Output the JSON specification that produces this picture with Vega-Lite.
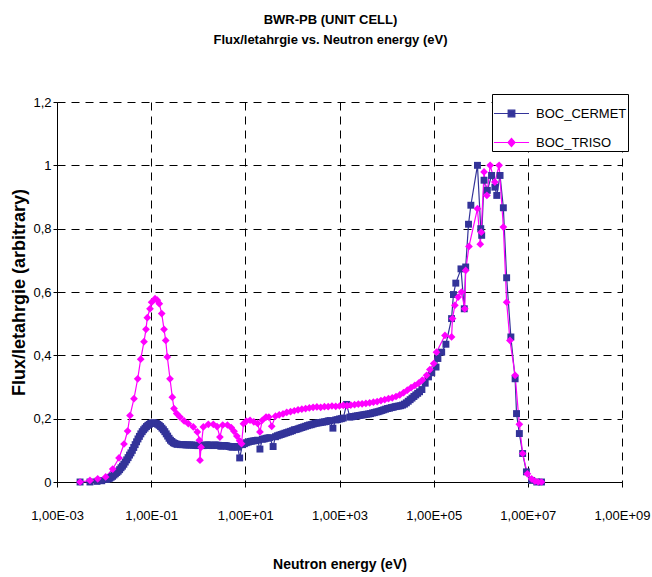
{
  "$schema": "https://vega.github.io/schema/vega-lite/v6.json",
  "width": 565,
  "height": 380,
  "autosize": "none",
  "padding": {"left": 57, "top": 102, "right": 30, "bottom": 95},
  "background": "white",
  "config": {"font": "Liberation Sans", "view": {"stroke": null}},
  "title": {
    "text": ["BWR-PB (UNIT CELL)", "Flux/letahrgie vs. Neutron energy (eV)"],
    "anchor": "middle",
    "frame": "bounds",
    "font": "Liberation Sans",
    "fontSize": 13,
    "fontWeight": "bold",
    "color": "#000",
    "lineHeight": 20,
    "offset": 47
  },
  "datasets": {
    "flux": [
      {"series": "BOC_CERMET", "E": 3.090e-3, "flux": 0},
      {"series": "BOC_CERMET", "E": 5.012e-3, "flux": 0},
      {"series": "BOC_CERMET", "E": 7.079e-3, "flux": 0.002},
      {"series": "BOC_CERMET", "E": 8.913e-3, "flux": 0.004},
      {"series": "BOC_CERMET", "E": 1.122e-2, "flux": 0.008},
      {"series": "BOC_CERMET", "E": 1.230e-2, "flux": 0.010},
      {"series": "BOC_CERMET", "E": 1.318e-2, "flux": 0.012},
      {"series": "BOC_CERMET", "E": 1.413e-2, "flux": 0.015},
      {"series": "BOC_CERMET", "E": 1.514e-2, "flux": 0.018},
      {"series": "BOC_CERMET", "E": 1.622e-2, "flux": 0.022},
      {"series": "BOC_CERMET", "E": 1.738e-2, "flux": 0.026},
      {"series": "BOC_CERMET", "E": 1.862e-2, "flux": 0.030},
      {"series": "BOC_CERMET", "E": 1.995e-2, "flux": 0.034},
      {"series": "BOC_CERMET", "E": 2.138e-2, "flux": 0.039},
      {"series": "BOC_CERMET", "E": 2.291e-2, "flux": 0.045},
      {"series": "BOC_CERMET", "E": 2.455e-2, "flux": 0.050},
      {"series": "BOC_CERMET", "E": 2.630e-2, "flux": 0.056},
      {"series": "BOC_CERMET", "E": 2.818e-2, "flux": 0.063},
      {"series": "BOC_CERMET", "E": 3.020e-2, "flux": 0.070},
      {"series": "BOC_CERMET", "E": 3.236e-2, "flux": 0.077},
      {"series": "BOC_CERMET", "E": 3.467e-2, "flux": 0.085},
      {"series": "BOC_CERMET", "E": 3.715e-2, "flux": 0.092},
      {"series": "BOC_CERMET", "E": 3.981e-2, "flux": 0.100},
      {"series": "BOC_CERMET", "E": 4.266e-2, "flux": 0.109},
      {"series": "BOC_CERMET", "E": 4.571e-2, "flux": 0.118},
      {"series": "BOC_CERMET", "E": 4.898e-2, "flux": 0.127},
      {"series": "BOC_CERMET", "E": 5.248e-2, "flux": 0.136},
      {"series": "BOC_CERMET", "E": 5.623e-2, "flux": 0.144},
      {"series": "BOC_CERMET", "E": 6.026e-2, "flux": 0.152},
      {"series": "BOC_CERMET", "E": 6.457e-2, "flux": 0.159},
      {"series": "BOC_CERMET", "E": 6.918e-2, "flux": 0.165},
      {"series": "BOC_CERMET", "E": 7.413e-2, "flux": 0.170},
      {"series": "BOC_CERMET", "E": 7.943e-2, "flux": 0.175},
      {"series": "BOC_CERMET", "E": 8.511e-2, "flux": 0.179},
      {"series": "BOC_CERMET", "E": 9.120e-2, "flux": 0.182},
      {"series": "BOC_CERMET", "E": 9.772e-2, "flux": 0.185},
      {"series": "BOC_CERMET", "E": 1.047e-1, "flux": 0.186},
      {"series": "BOC_CERMET", "E": 1.122e-1, "flux": 0.187},
      {"series": "BOC_CERMET", "E": 1.202e-1, "flux": 0.186},
      {"series": "BOC_CERMET", "E": 1.288e-1, "flux": 0.185},
      {"series": "BOC_CERMET", "E": 1.380e-1, "flux": 0.182},
      {"series": "BOC_CERMET", "E": 1.479e-1, "flux": 0.179},
      {"series": "BOC_CERMET", "E": 1.585e-1, "flux": 0.175},
      {"series": "BOC_CERMET", "E": 1.698e-1, "flux": 0.170},
      {"series": "BOC_CERMET", "E": 1.820e-1, "flux": 0.165},
      {"series": "BOC_CERMET", "E": 1.950e-1, "flux": 0.159},
      {"series": "BOC_CERMET", "E": 2.089e-1, "flux": 0.152},
      {"series": "BOC_CERMET", "E": 2.239e-1, "flux": 0.145},
      {"series": "BOC_CERMET", "E": 2.399e-1, "flux": 0.138},
      {"series": "BOC_CERMET", "E": 2.570e-1, "flux": 0.132},
      {"series": "BOC_CERMET", "E": 2.754e-1, "flux": 0.128},
      {"series": "BOC_CERMET", "E": 2.951e-1, "flux": 0.124},
      {"series": "BOC_CERMET", "E": 3.162e-1, "flux": 0.122},
      {"series": "BOC_CERMET", "E": 3.388e-1, "flux": 0.120},
      {"series": "BOC_CERMET", "E": 3.631e-1, "flux": 0.119},
      {"series": "BOC_CERMET", "E": 4.169e-1, "flux": 0.118},
      {"series": "BOC_CERMET", "E": 4.571e-1, "flux": 0.118},
      {"series": "BOC_CERMET", "E": 5.012e-1, "flux": 0.118},
      {"series": "BOC_CERMET", "E": 5.495e-1, "flux": 0.117},
      {"series": "BOC_CERMET", "E": 6.026e-1, "flux": 0.117},
      {"series": "BOC_CERMET", "E": 6.607e-1, "flux": 0.117},
      {"series": "BOC_CERMET", "E": 7.244e-1, "flux": 0.117},
      {"series": "BOC_CERMET", "E": 7.943e-1, "flux": 0.116},
      {"series": "BOC_CERMET", "E": 8.710e-1, "flux": 0.116},
      {"series": "BOC_CERMET", "E": 9.333e-1, "flux": 0.115},
      {"series": "BOC_CERMET", "E": 1.000, "flux": 0.115},
      {"series": "BOC_CERMET", "E": 1.072, "flux": 0.116},
      {"series": "BOC_CERMET", "E": 1.148, "flux": 0.116},
      {"series": "BOC_CERMET", "E": 1.230, "flux": 0.115},
      {"series": "BOC_CERMET", "E": 1.318, "flux": 0.115},
      {"series": "BOC_CERMET", "E": 1.413, "flux": 0.116},
      {"series": "BOC_CERMET", "E": 1.514, "flux": 0.117},
      {"series": "BOC_CERMET", "E": 1.622, "flux": 0.117},
      {"series": "BOC_CERMET", "E": 1.738, "flux": 0.116},
      {"series": "BOC_CERMET", "E": 1.862, "flux": 0.116},
      {"series": "BOC_CERMET", "E": 1.995, "flux": 0.115},
      {"series": "BOC_CERMET", "E": 2.138, "flux": 0.116},
      {"series": "BOC_CERMET", "E": 2.291, "flux": 0.117},
      {"series": "BOC_CERMET", "E": 2.455, "flux": 0.116},
      {"series": "BOC_CERMET", "E": 2.630, "flux": 0.116},
      {"series": "BOC_CERMET", "E": 2.818, "flux": 0.115},
      {"series": "BOC_CERMET", "E": 3.020, "flux": 0.113},
      {"series": "BOC_CERMET", "E": 3.236, "flux": 0.114},
      {"series": "BOC_CERMET", "E": 3.467, "flux": 0.115},
      {"series": "BOC_CERMET", "E": 3.715, "flux": 0.115},
      {"series": "BOC_CERMET", "E": 3.981, "flux": 0.114},
      {"series": "BOC_CERMET", "E": 4.266, "flux": 0.113},
      {"series": "BOC_CERMET", "E": 4.571, "flux": 0.112},
      {"series": "BOC_CERMET", "E": 4.898, "flux": 0.111},
      {"series": "BOC_CERMET", "E": 5.248, "flux": 0.110},
      {"series": "BOC_CERMET", "E": 5.623, "flux": 0.111},
      {"series": "BOC_CERMET", "E": 6.026, "flux": 0.112},
      {"series": "BOC_CERMET", "E": 6.457, "flux": 0.111},
      {"series": "BOC_CERMET", "E": 6.918, "flux": 0.110},
      {"series": "BOC_CERMET", "E": 7.586, "flux": 0.076},
      {"series": "BOC_CERMET", "E": 8.710, "flux": 0.118},
      {"series": "BOC_CERMET", "E": 9.550, "flux": 0.121},
      {"series": "BOC_CERMET", "E": 10.47, "flux": 0.124},
      {"series": "BOC_CERMET", "E": 11.48, "flux": 0.126},
      {"series": "BOC_CERMET", "E": 12.59, "flux": 0.128},
      {"series": "BOC_CERMET", "E": 13.80, "flux": 0.129},
      {"series": "BOC_CERMET", "E": 15.14, "flux": 0.130},
      {"series": "BOC_CERMET", "E": 16.60, "flux": 0.131},
      {"series": "BOC_CERMET", "E": 18.20, "flux": 0.132},
      {"series": "BOC_CERMET", "E": 20.42, "flux": 0.104},
      {"series": "BOC_CERMET", "E": 22.91, "flux": 0.135},
      {"series": "BOC_CERMET", "E": 25.12, "flux": 0.136},
      {"series": "BOC_CERMET", "E": 27.54, "flux": 0.138},
      {"series": "BOC_CERMET", "E": 30.20, "flux": 0.139},
      {"series": "BOC_CERMET", "E": 33.11, "flux": 0.140},
      {"series": "BOC_CERMET", "E": 38.90, "flux": 0.112},
      {"series": "BOC_CERMET", "E": 43.65, "flux": 0.143},
      {"series": "BOC_CERMET", "E": 47.86, "flux": 0.146},
      {"series": "BOC_CERMET", "E": 52.48, "flux": 0.148},
      {"series": "BOC_CERMET", "E": 57.54, "flux": 0.150},
      {"series": "BOC_CERMET", "E": 63.10, "flux": 0.152},
      {"series": "BOC_CERMET", "E": 69.18, "flux": 0.154},
      {"series": "BOC_CERMET", "E": 75.86, "flux": 0.156},
      {"series": "BOC_CERMET", "E": 83.18, "flux": 0.158},
      {"series": "BOC_CERMET", "E": 91.20, "flux": 0.160},
      {"series": "BOC_CERMET", "E": 100.0, "flux": 0.162},
      {"series": "BOC_CERMET", "E": 109.6, "flux": 0.165},
      {"series": "BOC_CERMET", "E": 120.2, "flux": 0.166},
      {"series": "BOC_CERMET", "E": 131.8, "flux": 0.168},
      {"series": "BOC_CERMET", "E": 144.5, "flux": 0.170},
      {"series": "BOC_CERMET", "E": 158.5, "flux": 0.172},
      {"series": "BOC_CERMET", "E": 173.8, "flux": 0.174},
      {"series": "BOC_CERMET", "E": 190.5, "flux": 0.176},
      {"series": "BOC_CERMET", "E": 208.9, "flux": 0.178},
      {"series": "BOC_CERMET", "E": 229.1, "flux": 0.180},
      {"series": "BOC_CERMET", "E": 251.2, "flux": 0.181},
      {"series": "BOC_CERMET", "E": 275.4, "flux": 0.183},
      {"series": "BOC_CERMET", "E": 302.0, "flux": 0.185},
      {"series": "BOC_CERMET", "E": 331.1, "flux": 0.186},
      {"series": "BOC_CERMET", "E": 363.1, "flux": 0.187},
      {"series": "BOC_CERMET", "E": 398.1, "flux": 0.188},
      {"series": "BOC_CERMET", "E": 436.5, "flux": 0.189},
      {"series": "BOC_CERMET", "E": 478.6, "flux": 0.190},
      {"series": "BOC_CERMET", "E": 524.8, "flux": 0.191},
      {"series": "BOC_CERMET", "E": 575.4, "flux": 0.193},
      {"series": "BOC_CERMET", "E": 631.0, "flux": 0.194},
      {"series": "BOC_CERMET", "E": 724.4, "flux": 0.170},
      {"series": "BOC_CERMET", "E": 831.8, "flux": 0.196},
      {"series": "BOC_CERMET", "E": 912.0, "flux": 0.197},
      {"series": "BOC_CERMET", "E": 1000, "flux": 0.199},
      {"series": "BOC_CERMET", "E": 1096, "flux": 0.200},
      {"series": "BOC_CERMET", "E": 1202, "flux": 0.202},
      {"series": "BOC_CERMET", "E": 1413, "flux": 0.245},
      {"series": "BOC_CERMET", "E": 1660, "flux": 0.205},
      {"series": "BOC_CERMET", "E": 1820, "flux": 0.206},
      {"series": "BOC_CERMET", "E": 1995, "flux": 0.207},
      {"series": "BOC_CERMET", "E": 2188, "flux": 0.208},
      {"series": "BOC_CERMET", "E": 2399, "flux": 0.209},
      {"series": "BOC_CERMET", "E": 2630, "flux": 0.210},
      {"series": "BOC_CERMET", "E": 2884, "flux": 0.211},
      {"series": "BOC_CERMET", "E": 3162, "flux": 0.212},
      {"series": "BOC_CERMET", "E": 3467, "flux": 0.213},
      {"series": "BOC_CERMET", "E": 3802, "flux": 0.214},
      {"series": "BOC_CERMET", "E": 4169, "flux": 0.215},
      {"series": "BOC_CERMET", "E": 4571, "flux": 0.216},
      {"series": "BOC_CERMET", "E": 5012, "flux": 0.218},
      {"series": "BOC_CERMET", "E": 5495, "flux": 0.219},
      {"series": "BOC_CERMET", "E": 6026, "flux": 0.221},
      {"series": "BOC_CERMET", "E": 6607, "flux": 0.222},
      {"series": "BOC_CERMET", "E": 7244, "flux": 0.224},
      {"series": "BOC_CERMET", "E": 7943, "flux": 0.226},
      {"series": "BOC_CERMET", "E": 8710, "flux": 0.228},
      {"series": "BOC_CERMET", "E": 9550, "flux": 0.230},
      {"series": "BOC_CERMET", "E": 10470, "flux": 0.232},
      {"series": "BOC_CERMET", "E": 11480, "flux": 0.233},
      {"series": "BOC_CERMET", "E": 12590, "flux": 0.235},
      {"series": "BOC_CERMET", "E": 13800, "flux": 0.236},
      {"series": "BOC_CERMET", "E": 15140, "flux": 0.238},
      {"series": "BOC_CERMET", "E": 16600, "flux": 0.239},
      {"series": "BOC_CERMET", "E": 18200, "flux": 0.240},
      {"series": "BOC_CERMET", "E": 19950, "flux": 0.241},
      {"series": "BOC_CERMET", "E": 21880, "flux": 0.243},
      {"series": "BOC_CERMET", "E": 23990, "flux": 0.246},
      {"series": "BOC_CERMET", "E": 26300, "flux": 0.250},
      {"series": "BOC_CERMET", "E": 28840, "flux": 0.255},
      {"series": "BOC_CERMET", "E": 31620, "flux": 0.260},
      {"series": "BOC_CERMET", "E": 34670, "flux": 0.265},
      {"series": "BOC_CERMET", "E": 38020, "flux": 0.270},
      {"series": "BOC_CERMET", "E": 41690, "flux": 0.275},
      {"series": "BOC_CERMET", "E": 45710, "flux": 0.280},
      {"series": "BOC_CERMET", "E": 50120, "flux": 0.285},
      {"series": "BOC_CERMET", "E": 56230, "flux": 0.292},
      {"series": "BOC_CERMET", "E": 66070, "flux": 0.312},
      {"series": "BOC_CERMET", "E": 77620, "flux": 0.332},
      {"series": "BOC_CERMET", "E": 91200, "flux": 0.345},
      {"series": "BOC_CERMET", "E": 112200, "flux": 0.363},
      {"series": "BOC_CERMET", "E": 123000, "flux": 0.390},
      {"series": "BOC_CERMET", "E": 147900, "flux": 0.410},
      {"series": "BOC_CERMET", "E": 182000, "flux": 0.435},
      {"series": "BOC_CERMET", "E": 239900, "flux": 0.516},
      {"series": "BOC_CERMET", "E": 263000, "flux": 0.592},
      {"series": "BOC_CERMET", "E": 295100, "flux": 0.628},
      {"series": "BOC_CERMET", "E": 380200, "flux": 0.673},
      {"series": "BOC_CERMET", "E": 446700, "flux": 0.547},
      {"series": "BOC_CERMET", "E": 478600, "flux": 0.679},
      {"series": "BOC_CERMET", "E": 549500, "flux": 0.814},
      {"series": "BOC_CERMET", "E": 616600, "flux": 0.874},
      {"series": "BOC_CERMET", "E": 851100, "flux": 1.0},
      {"series": "BOC_CERMET", "E": 1000000, "flux": 0.80},
      {"series": "BOC_CERMET", "E": 1047000, "flux": 0.779},
      {"series": "BOC_CERMET", "E": 1175000, "flux": 0.953},
      {"series": "BOC_CERMET", "E": 1380000, "flux": 0.921},
      {"series": "BOC_CERMET", "E": 1698000, "flux": 0.968},
      {"series": "BOC_CERMET", "E": 1995000, "flux": 0.931},
      {"series": "BOC_CERMET", "E": 2188000, "flux": 0.905},
      {"series": "BOC_CERMET", "E": 2570000, "flux": 0.968},
      {"series": "BOC_CERMET", "E": 3020000, "flux": 0.866},
      {"series": "BOC_CERMET", "E": 3548000, "flux": 0.645},
      {"series": "BOC_CERMET", "E": 4365000, "flux": 0.458},
      {"series": "BOC_CERMET", "E": 5370000, "flux": 0.326},
      {"series": "BOC_CERMET", "E": 5754000, "flux": 0.216},
      {"series": "BOC_CERMET", "E": 6607000, "flux": 0.153},
      {"series": "BOC_CERMET", "E": 7762000, "flux": 0.090},
      {"series": "BOC_CERMET", "E": 9333000, "flux": 0.032},
      {"series": "BOC_CERMET", "E": 12020000, "flux": 0.005},
      {"series": "BOC_CERMET", "E": 15490000, "flux": 0.0},
      {"series": "BOC_CERMET", "E": 19500000, "flux": 0.0},
      {"series": "BOC_TRISO", "E": 3.090e-3, "flux": 0},
      {"series": "BOC_TRISO", "E": 5.012e-3, "flux": 0.005},
      {"series": "BOC_TRISO", "E": 7.328e-3, "flux": 0.010},
      {"series": "BOC_TRISO", "E": 1.081e-2, "flux": 0.016},
      {"series": "BOC_TRISO", "E": 1.524e-2, "flux": 0.041},
      {"series": "BOC_TRISO", "E": 2.075e-2, "flux": 0.076},
      {"series": "BOC_TRISO", "E": 2.649e-2, "flux": 0.120},
      {"series": "BOC_TRISO", "E": 3.162e-2, "flux": 0.161},
      {"series": "BOC_TRISO", "E": 3.548e-2, "flux": 0.210},
      {"series": "BOC_TRISO", "E": 4.315e-2, "flux": 0.263},
      {"series": "BOC_TRISO", "E": 5.176e-2, "flux": 0.326},
      {"series": "BOC_TRISO", "E": 5.998e-2, "flux": 0.388},
      {"series": "BOC_TRISO", "E": 7.047e-2, "flux": 0.443},
      {"series": "BOC_TRISO", "E": 7.762e-2, "flux": 0.482},
      {"series": "BOC_TRISO", "E": 8.279e-2, "flux": 0.519},
      {"series": "BOC_TRISO", "E": 9.441e-2, "flux": 0.547},
      {"series": "BOC_TRISO", "E": 1.023e-1, "flux": 0.568},
      {"series": "BOC_TRISO", "E": 1.208e-1, "flux": 0.579},
      {"series": "BOC_TRISO", "E": 1.349e-1, "flux": 0.574},
      {"series": "BOC_TRISO", "E": 1.489e-1, "flux": 0.563},
      {"series": "BOC_TRISO", "E": 1.675e-1, "flux": 0.532},
      {"series": "BOC_TRISO", "E": 1.875e-1, "flux": 0.482},
      {"series": "BOC_TRISO", "E": 2.037e-1, "flux": 0.447},
      {"series": "BOC_TRISO", "E": 2.203e-1, "flux": 0.395},
      {"series": "BOC_TRISO", "E": 2.512e-1, "flux": 0.326},
      {"series": "BOC_TRISO", "E": 2.812e-1, "flux": 0.268},
      {"series": "BOC_TRISO", "E": 3.055e-1, "flux": 0.232},
      {"series": "BOC_TRISO", "E": 3.483e-1, "flux": 0.216},
      {"series": "BOC_TRISO", "E": 4.102e-1, "flux": 0.205},
      {"series": "BOC_TRISO", "E": 5.012e-1, "flux": 0.193},
      {"series": "BOC_TRISO", "E": 6.166e-1, "flux": 0.184},
      {"series": "BOC_TRISO", "E": 7.852e-1, "flux": 0.174},
      {"series": "BOC_TRISO", "E": 9.550e-1, "flux": 0.158},
      {"series": "BOC_TRISO", "E": 1.054, "flux": 0.132},
      {"series": "BOC_TRISO", "E": 1.089, "flux": 0.069},
      {"series": "BOC_TRISO", "E": 1.148, "flux": 0.110},
      {"series": "BOC_TRISO", "E": 1.282, "flux": 0.174},
      {"series": "BOC_TRISO", "E": 1.637, "flux": 0.182},
      {"series": "BOC_TRISO", "E": 2.089, "flux": 0.182},
      {"series": "BOC_TRISO", "E": 2.512, "flux": 0.175},
      {"series": "BOC_TRISO", "E": 2.884, "flux": 0.142},
      {"series": "BOC_TRISO", "E": 3.311, "flux": 0.180},
      {"series": "BOC_TRISO", "E": 4.169, "flux": 0.180},
      {"series": "BOC_TRISO", "E": 5.012, "flux": 0.172},
      {"series": "BOC_TRISO", "E": 5.754, "flux": 0.160},
      {"series": "BOC_TRISO", "E": 6.607, "flux": 0.145},
      {"series": "BOC_TRISO", "E": 7.586, "flux": 0.130},
      {"series": "BOC_TRISO", "E": 8.318, "flux": 0.121},
      {"series": "BOC_TRISO", "E": 9.120, "flux": 0.184},
      {"series": "BOC_TRISO", "E": 10.47, "flux": 0.192},
      {"series": "BOC_TRISO", "E": 12.59, "flux": 0.195},
      {"series": "BOC_TRISO", "E": 15.14, "flux": 0.190},
      {"series": "BOC_TRISO", "E": 18.20, "flux": 0.185},
      {"series": "BOC_TRISO", "E": 20.42, "flux": 0.158},
      {"series": "BOC_TRISO", "E": 22.91, "flux": 0.195},
      {"series": "BOC_TRISO", "E": 27.54, "flux": 0.205},
      {"series": "BOC_TRISO", "E": 31.62, "flux": 0.205},
      {"series": "BOC_TRISO", "E": 36.31, "flux": 0.176},
      {"series": "BOC_TRISO", "E": 43.65, "flux": 0.208},
      {"series": "BOC_TRISO", "E": 52.48, "flux": 0.212},
      {"series": "BOC_TRISO", "E": 63.10, "flux": 0.215},
      {"series": "BOC_TRISO", "E": 75.86, "flux": 0.220},
      {"series": "BOC_TRISO", "E": 91.20, "flux": 0.222},
      {"series": "BOC_TRISO", "E": 109.6, "flux": 0.225},
      {"series": "BOC_TRISO", "E": 131.8, "flux": 0.228},
      {"series": "BOC_TRISO", "E": 158.5, "flux": 0.230},
      {"series": "BOC_TRISO", "E": 190.5, "flux": 0.232},
      {"series": "BOC_TRISO", "E": 229.1, "flux": 0.234},
      {"series": "BOC_TRISO", "E": 275.4, "flux": 0.236},
      {"series": "BOC_TRISO", "E": 331.1, "flux": 0.237},
      {"series": "BOC_TRISO", "E": 398.1, "flux": 0.236},
      {"series": "BOC_TRISO", "E": 478.6, "flux": 0.238},
      {"series": "BOC_TRISO", "E": 575.4, "flux": 0.238},
      {"series": "BOC_TRISO", "E": 691.8, "flux": 0.240},
      {"series": "BOC_TRISO", "E": 831.8, "flux": 0.239},
      {"series": "BOC_TRISO", "E": 1000, "flux": 0.240},
      {"series": "BOC_TRISO", "E": 1202, "flux": 0.242},
      {"series": "BOC_TRISO", "E": 1445, "flux": 0.241},
      {"series": "BOC_TRISO", "E": 1738, "flux": 0.243},
      {"series": "BOC_TRISO", "E": 2089, "flux": 0.244},
      {"series": "BOC_TRISO", "E": 2512, "flux": 0.246},
      {"series": "BOC_TRISO", "E": 3020, "flux": 0.247},
      {"series": "BOC_TRISO", "E": 3631, "flux": 0.248},
      {"series": "BOC_TRISO", "E": 4365, "flux": 0.250},
      {"series": "BOC_TRISO", "E": 5248, "flux": 0.252},
      {"series": "BOC_TRISO", "E": 6310, "flux": 0.254},
      {"series": "BOC_TRISO", "E": 7586, "flux": 0.257},
      {"series": "BOC_TRISO", "E": 9120, "flux": 0.260},
      {"series": "BOC_TRISO", "E": 10960, "flux": 0.263},
      {"series": "BOC_TRISO", "E": 13180, "flux": 0.266},
      {"series": "BOC_TRISO", "E": 15850, "flux": 0.270},
      {"series": "BOC_TRISO", "E": 19050, "flux": 0.275},
      {"series": "BOC_TRISO", "E": 22910, "flux": 0.282},
      {"series": "BOC_TRISO", "E": 27540, "flux": 0.290},
      {"series": "BOC_TRISO", "E": 33110, "flux": 0.298},
      {"series": "BOC_TRISO", "E": 39810, "flux": 0.305},
      {"series": "BOC_TRISO", "E": 47860, "flux": 0.312},
      {"series": "BOC_TRISO", "E": 57540, "flux": 0.322},
      {"series": "BOC_TRISO", "E": 70790, "flux": 0.337},
      {"series": "BOC_TRISO", "E": 83180, "flux": 0.355},
      {"series": "BOC_TRISO", "E": 100000, "flux": 0.374},
      {"series": "BOC_TRISO", "E": 114800, "flux": 0.410},
      {"series": "BOC_TRISO", "E": 173800, "flux": 0.463},
      {"series": "BOC_TRISO", "E": 239900, "flux": 0.458},
      {"series": "BOC_TRISO", "E": 251200, "flux": 0.516},
      {"series": "BOC_TRISO", "E": 281800, "flux": 0.558},
      {"series": "BOC_TRISO", "E": 331100, "flux": 0.584},
      {"series": "BOC_TRISO", "E": 389000, "flux": 0.600},
      {"series": "BOC_TRISO", "E": 457100, "flux": 0.547},
      {"series": "BOC_TRISO", "E": 478600, "flux": 0.668},
      {"series": "BOC_TRISO", "E": 562300, "flux": 0.744},
      {"series": "BOC_TRISO", "E": 851100, "flux": 0.863},
      {"series": "BOC_TRISO", "E": 977200, "flux": 0.751},
      {"series": "BOC_TRISO", "E": 1023000, "flux": 0.789},
      {"series": "BOC_TRISO", "E": 1175000, "flux": 0.979},
      {"series": "BOC_TRISO", "E": 1349000, "flux": 0.905},
      {"series": "BOC_TRISO", "E": 1585000, "flux": 1.0},
      {"series": "BOC_TRISO", "E": 1995000, "flux": 0.947},
      {"series": "BOC_TRISO", "E": 2455000, "flux": 1.0},
      {"series": "BOC_TRISO", "E": 3020000, "flux": 0.805},
      {"series": "BOC_TRISO", "E": 3548000, "flux": 0.568},
      {"series": "BOC_TRISO", "E": 4169000, "flux": 0.447},
      {"series": "BOC_TRISO", "E": 5370000, "flux": 0.337},
      {"series": "BOC_TRISO", "E": 6607000, "flux": 0.182},
      {"series": "BOC_TRISO", "E": 7762000, "flux": 0.090},
      {"series": "BOC_TRISO", "E": 9772000, "flux": 0.026},
      {"series": "BOC_TRISO", "E": 12020000, "flux": 0.010},
      {"series": "BOC_TRISO", "E": 14130000, "flux": 0.003},
      {"series": "BOC_TRISO", "E": 16600000, "flux": 0.0},
      {"series": "BOC_TRISO", "E": 19500000, "flux": 0.0}
    ]
  },
  "data": {"name": "flux"},
  "encoding": {
    "x": {
      "field": "E",
      "type": "quantitative",
      "title": "Neutron energy (eV)",
      "scale": {"type": "log", "domain": [0.001, 1000000000], "nice": false},
      "axis": {
        "values": [0.001, 0.1, 10, 1000, 100000, 10000000, 1000000000],
        "labelExpr": "'1,00E' + (datum.value < 1 ? '-' : '+') + (abs(round(log(datum.value) / LN10)) < 10 ? '0' : '') + abs(round(log(datum.value) / LN10))",
        "grid": true,
        "gridColor": "#000",
        "gridDash": [8, 6],
        "gridWidth": 1,
        "domainColor": "#000",
        "tickColor": "#000",
        "tickSize": 5,
        "labelFont": "Liberation Sans",
        "labelFontSize": 13,
        "labelColor": "#000",
        "labelPadding": 22,
        "labelFlush": false,
        "labelOverlap": false,
        "titleFont": "Liberation Sans",
        "titleFontSize": 14,
        "titleFontWeight": "bold",
        "titleColor": "#000",
        "titlePadding": 35
      }
    },
    "y": {
      "field": "flux",
      "type": "quantitative",
      "title": "Flux/letahrgie (arbitrary)",
      "scale": {"domain": [0, 1.2], "nice": false},
      "axis": {
        "values": [0, 0.2, 0.4, 0.6, 0.8, 1, 1.2],
        "labelExpr": "replace(format(datum.value, '.1~f'), '.', ',')",
        "grid": true,
        "gridColor": "#000",
        "gridDash": [8, 6],
        "gridWidth": 1,
        "domainColor": "#000",
        "tickColor": "#000",
        "tickSize": 4,
        "labelFont": "Liberation Sans",
        "labelFontSize": 13,
        "labelColor": "#000",
        "labelPadding": 2,
        "titleFont": "Liberation Sans",
        "titleFontSize": 18,
        "titleFontWeight": "bold",
        "titleColor": "#000",
        "titlePadding": 4
      }
    },
    "color": {
      "field": "series",
      "type": "nominal",
      "scale": {"domain": ["BOC_CERMET", "BOC_TRISO"], "range": ["#333399", "#FF00FF"]},
      "legend": {
        "title": null,
        "orient": "none",
        "legendX": 435,
        "legendY": -8,
        "strokeColor": "#000",
        "fillColor": "#fff",
        "padding": 1,
        "rowPadding": 3,
        "symbolSize": 1225,
        "symbolStrokeWidth": 1.2,
        "labelOffset": 6,
        "labelFont": "Liberation Sans",
        "labelFontSize": 13,
        "labelColor": "#000",
        "encode": {
          "symbols": {
            "update": {
              "shape": {"signal": "datum.value === 'BOC_CERMET' ? 'M-1,0H1M-0.19,-0.19H0.19V0.19H-0.19Z' : 'M-1,0H1M0,-0.23L0.2,0L0,0.23L-0.2,0Z'"},
              "fill": {"signal": "datum.value === 'BOC_CERMET' ? '#333399' : '#FF00FF'"},
              "stroke": {"signal": "datum.value === 'BOC_CERMET' ? '#333399' : '#FF00FF'"},
              "strokeWidth": {"value": 1.2},
              "opacity": {"value": 1},
              "fillOpacity": {"value": 1}
            }
          }
        }
      }
    }
  },
  "layer": [
    {"mark": {"type": "line", "strokeWidth": 1.2}},
    {
      "transform": [{"filter": "datum.series === 'BOC_CERMET'"}],
      "mark": {"type": "point", "filled": true, "opacity": 1, "size": 48, "shape": "square"}
    },
    {
      "transform": [{"filter": "datum.series === 'BOC_TRISO'"}],
      "mark": {"type": "point", "filled": true, "opacity": 1, "size": 60, "shape": "diamond"}
    }
  ]
}
